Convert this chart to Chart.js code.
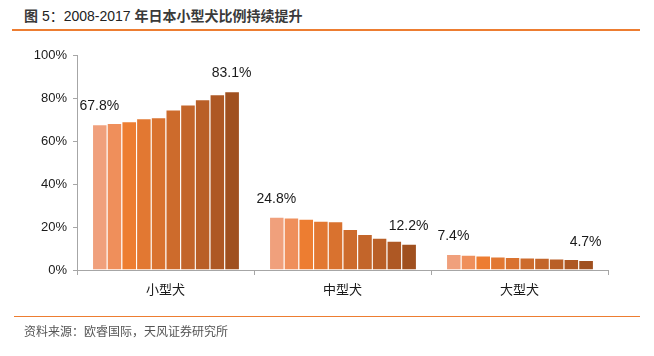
<!DOCTYPE html>
<html><head><meta charset="utf-8">
<script src="https://cdn.jsdelivr.net/npm/chart.js@4/dist/chart.umd.min.js"></script>
<style>
html,body{margin:0;padding:0;background:#fff;}
#wrap{position:relative;width:654px;height:356px;overflow:hidden;font-family:"Liberation Sans","Noto Sans CJK SC",sans-serif;}
#title{position:absolute;left:24px;top:5px;font-size:14px;font-weight:bold;color:#3a3a3a;white-space:nowrap;}
#title .n{font-weight:normal;color:#222;}
#tline{position:absolute;left:12px;top:29px;width:628px;height:2px;background:#ED7D31;}
#fline{position:absolute;left:14px;top:316px;width:626px;height:1px;background:#ED7D31;}
#foot{position:absolute;left:24px;top:322px;font-size:12px;color:#555;white-space:nowrap;}
canvas{position:absolute;left:0;top:0;}
</style></head>
<body><div id="wrap">
<div id="title">图 <span class="n">5：2008-2017</span> 年日本小型犬比例持续提升</div>
<div id="tline"></div>
<canvas id="c" width="654" height="356"></canvas>
<div id="fline"></div>
<div id="foot">资料来源：欧睿国际，天风证券研究所</div>
</div>
<script>
const categories = ["小型犬","中型犬","大型犬"];
const years = ["2008","2009","2010","2011","2012","2013","2014","2015","2016","2017"];
const small = [67.8,68.4,69.2,70.6,71.0,74.7,77.0,79.4,81.7,83.1];
const medium = [24.8,24.4,23.8,22.9,22.7,19.1,16.8,15.0,13.6,12.2];
const large = [7.4,7.1,6.8,6.3,6.0,5.8,5.7,5.4,5.1,4.7];
const yTicks = [0,20,40,60,80,100];
const colors = ["#F0A07C","#EF8F5B","#ED7D31","#E27832","#D9722F","#CD6B2C","#C3652A","#B95F27","#AE5824","#A0501F"];

const datasets = years.map((y,i)=>({
  label: y,
  data: [small[i], medium[i], large[i]],
  backgroundColor: colors[i],
  borderColor: "rgba(255,255,255,0.35)",
  borderWidth: {left:1,right:0,top:1,bottom:0},
  categoryPercentage: 0.83,
  barPercentage: 1.0
}));

const labelPlugin = {
  id:'lbl',
  afterDatasetsDraw(chart){
    const ctx = chart.ctx;
    ctx.save();
    ctx.font = '14px "Liberation Sans","Noto Sans CJK SC",sans-serif';
    ctx.fillStyle = '#1a1a1a';
    ctx.textAlign = 'center';
    ctx.textBaseline = 'middle';
    [0, years.length-1].forEach(di=>{
      const meta = chart.getDatasetMeta(di);
      meta.data.forEach((el,j)=>{
        const v = chart.data.datasets[di].data[j];
        ctx.fillText(v.toFixed(1)+'%', el.x, el.y-18);
      });
    });
    ctx.restore();
  }
};

new Chart(document.getElementById('c'), {
  type:'bar',
  data:{labels:categories, datasets},
  options:{
    responsive:false, animation:false,
    layout:{padding:{top:55,right:46,left:0,bottom:0}},
    plugins:{legend:{display:false},tooltip:{enabled:false}},
    scales:{
      x:{
        grid:{display:true,drawOnChartArea:false,offset:true,tickLength:5,color:'#a6a6a6'},
        border:{color:'#a6a6a6'},
        ticks:{font:{size:13,family:'"Noto Sans CJK SC",sans-serif'},color:'#1a1a1a',padding:6},
        afterFit(s){s.height=86;}
      },
      y:{
        min:0,max:100,
        afterBuildTicks(s){s.ticks = yTicks.map(v=>({value:v}));},
        grid:{display:true,drawOnChartArea:false,tickLength:4,color:'#a6a6a6'},
        border:{color:'#a6a6a6'},
        ticks:{font:{size:13,family:'"Liberation Sans",sans-serif'},color:'#1a1a1a',padding:6,callback:v=>v+'%'},
        afterFit(s){s.width=77;}
      }
    }
  },
  plugins:[labelPlugin]
});
</script>
</body></html>
